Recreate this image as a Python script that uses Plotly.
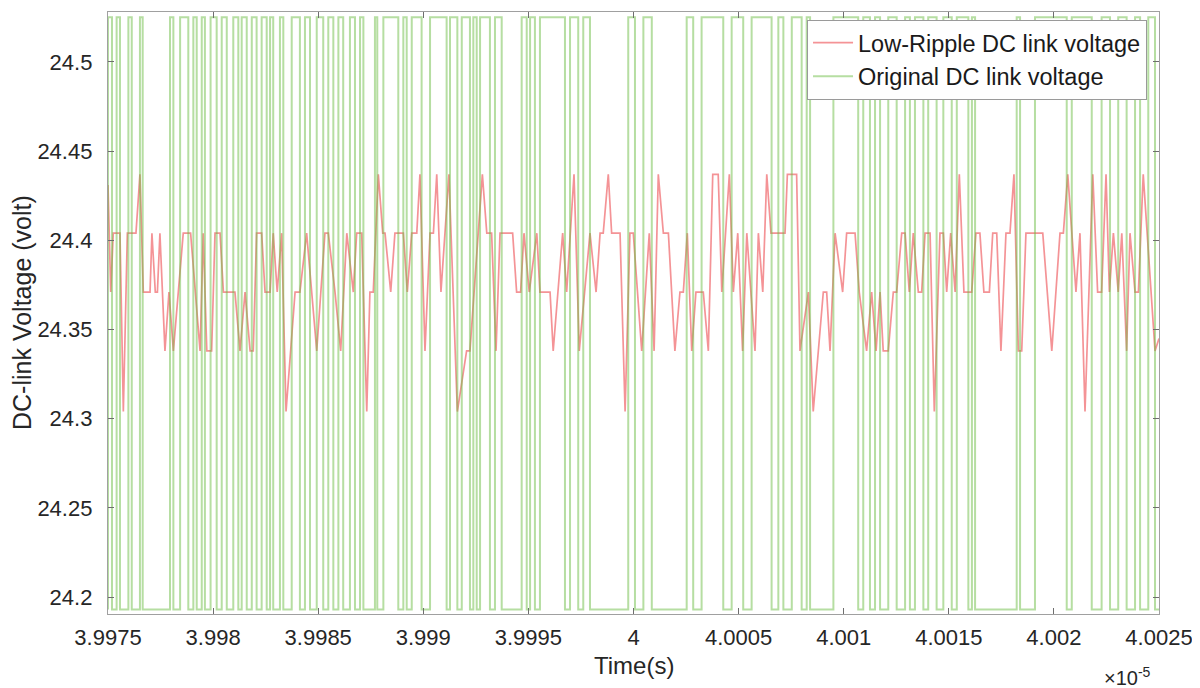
import plotly.graph_objects as go

# ---------------- data (time in ns after 39975 ns; plotted in units of 1e-5 s) ----------------
T0_NS = 39975.0

red_t_ns = [0.00, 0.13, 0.25, 0.57, 0.73, 0.92, 1.33, 1.52, 1.68, 2.00,
            2.09, 2.25, 2.35, 2.47, 2.71, 2.90, 3.11, 3.58, 3.93, 4.38,
            4.53, 4.70, 4.93, 5.09, 5.33, 5.49, 6.04, 6.28, 6.52, 6.76,
            6.91, 7.07, 7.31, 7.47, 7.71, 7.86, 8.05, 8.26, 8.47, 8.90,
            9.13, 9.45, 9.93, 10.32, 10.48, 10.80, 11.07, 11.36, 11.67, 11.83,
            12.07, 12.31, 12.46, 12.62, 12.86, 13.07, 13.18, 13.45, 13.65, 14.05,
            14.24, 14.45, 14.69, 14.84, 15.08, 15.32, 15.48, 15.64, 15.84, 16.22,
            16.62, 17.06, 17.22, 17.81, 18.02, 18.25, 18.46, 18.65, 19.25, 19.44,
            19.63, 19.79, 20.04, 20.40, 20.55, 21.03, 21.18, 21.63, 21.82, 22.17,
            22.42, 22.93, 23.22, 23.41, 23.56, 23.80, 23.96, 24.36, 24.60, 24.83,
            24.99, 25.39, 25.75, 25.98, 26.18, 26.42, 26.66, 26.97, 27.21, 27.37,
            27.56, 27.77, 27.97, 28.32, 28.56, 28.77, 29.03, 29.20, 29.56, 29.75,
            29.96, 30.19, 30.39, 30.78, 30.94, 31.15, 31.34, 31.54, 32.21, 32.32,
            32.76, 32.92, 33.32, 33.55, 34.03, 34.19, 34.35, 34.59, 34.95, 35.14,
            35.54, 35.74, 36.09, 36.33, 36.54, 36.73, 36.88, 37.12, 37.36, 37.52,
            37.76, 37.92, 38.12, 38.31, 38.55, 38.71, 38.87, 39.11, 39.31, 39.58,
            39.74, 39.90, 40.09, 40.30, 40.50, 40.72, 41.09, 41.29, 41.48, 41.67,
            41.93, 42.09, 42.28, 42.48, 42.72, 42.91, 43.10, 43.31, 43.47, 43.67,
            44.47, 44.90, 45.29, 45.45, 45.66, 46.05, 46.24, 46.48, 46.85, 47.08,
            47.27, 47.48, 47.64, 47.83, 48.06, 48.23, 48.46, 48.62, 48.86, 49.02,
            49.25, 49.81, 50.00]

red_v = [24.431, 24.371, 24.404, 24.404, 24.304, 24.404, 24.404, 24.437, 24.371, 24.371,
         24.404, 24.371, 24.371, 24.404, 24.338, 24.371, 24.338, 24.404, 24.404, 24.338,
         24.404, 24.338, 24.338, 24.404, 24.404, 24.371, 24.371, 24.338, 24.371, 24.338,
         24.338, 24.404, 24.404, 24.371, 24.371, 24.404, 24.371, 24.404, 24.304, 24.371,
         24.371, 24.404, 24.338, 24.404, 24.404, 24.371, 24.338, 24.404, 24.371, 24.404,
         24.404, 24.304, 24.371, 24.371, 24.437, 24.404, 24.404, 24.371, 24.404, 24.404,
         24.371, 24.404, 24.404, 24.437, 24.338, 24.404, 24.404, 24.437, 24.371, 24.437,
         24.304, 24.338, 24.338, 24.437, 24.404, 24.404, 24.338, 24.404, 24.404, 24.371,
         24.371, 24.404, 24.371, 24.404, 24.371, 24.371, 24.338, 24.404, 24.371, 24.437,
         24.338, 24.404, 24.371, 24.404, 24.404, 24.437, 24.404, 24.404, 24.304, 24.404,
         24.404, 24.338, 24.404, 24.338, 24.437, 24.404, 24.404, 24.338, 24.371, 24.371,
         24.404, 24.338, 24.371, 24.371, 24.338, 24.437, 24.437, 24.371, 24.437, 24.371,
         24.404, 24.338, 24.404, 24.338, 24.404, 24.371, 24.437, 24.404, 24.404, 24.437,
         24.437, 24.338, 24.371, 24.304, 24.371, 24.371, 24.338, 24.404, 24.371, 24.404,
         24.404, 24.371, 24.338, 24.371, 24.338, 24.371, 24.338, 24.338, 24.371, 24.371,
         24.404, 24.404, 24.371, 24.404, 24.371, 24.371, 24.404, 24.404, 24.304, 24.404,
         24.404, 24.371, 24.404, 24.371, 24.437, 24.371, 24.371, 24.404, 24.404, 24.371,
         24.371, 24.404, 24.404, 24.338, 24.404, 24.404, 24.437, 24.338, 24.338, 24.404,
         24.404, 24.338, 24.404, 24.404, 24.437, 24.371, 24.404, 24.304, 24.437, 24.371,
         24.371, 24.437, 24.371, 24.404, 24.371, 24.404, 24.338, 24.404, 24.371, 24.371,
         24.437, 24.338, 24.345]

green_hi = 24.525
green_lo = 24.193
green_on_ns = [0.00, 0.41, 0.97, 1.52, 2.95, 3.43, 4.06, 4.46, 4.88, 5.41,
               5.96, 6.36, 6.84, 7.31, 7.71, 8.18, 8.74, 9.37, 9.93, 10.48,
               10.96, 11.51, 11.99, 12.70, 13.10, 14.05, 14.45, 15.32, 16.27, 16.83,
               17.38, 17.70, 18.41, 19.68, 20.08, 20.55, 21.98, 22.61, 24.75, 25.47,
               27.53, 28.24, 29.67, 30.62, 31.89, 32.53, 33.24, 34.51, 35.93, 36.49,
               37.12, 37.92, 38.39, 39.02, 39.74, 40.38, 41.10, 43.23, 44.10, 45.85,
               47.27, 48.06, 48.86, 49.49]
green_off_ns = [0.19, 0.57, 1.13, 1.65, 3.11, 3.82, 4.22, 4.61, 5.17, 5.65,
                6.20, 6.60, 7.07, 7.55, 7.86, 8.34, 9.13, 9.61, 10.24, 10.72,
                11.19, 11.75, 12.15, 12.81, 13.81, 14.21, 14.92, 16.11, 16.62, 17.22,
                17.54, 18.17, 18.73, 19.92, 20.31, 21.74, 22.37, 22.93, 25.07, 25.87,
                27.84, 29.27, 30.22, 31.57, 32.13, 33.00, 33.40, 35.69, 36.25, 36.73,
                37.52, 38.15, 38.79, 39.42, 40.14, 40.93, 41.25, 43.39, 45.61, 46.80,
                47.67, 48.46, 49.10, 49.81]
T_END_NS = 50.0

x_ticks = [3.9975, 3.998, 3.9985, 3.999, 3.9995, 4.0, 4.0005, 4.001, 4.0015, 4.002, 4.0025]
x_tick_text = ["3.9975", "3.998", "3.9985", "3.999", "3.9995", "4",
               "4.0005", "4.001", "4.0015", "4.002", "4.0025"]
y_ticks = [24.2, 24.25, 24.3, 24.35, 24.4, 24.45, 24.5]
y_tick_text = ["24.2", "24.25", "24.3", "24.35", "24.4", "24.45", "24.5"]
x_range = [3.9975, 4.0025]
y_range = [24.1905, 24.528]

# ---------------- build traces ----------------
def to_units(t_ns):
    return (T0_NS + t_ns) / 1e4   # seconds * 1e5

red_x = [to_units(t) for t in red_t_ns]

gx, gy = [], []
for on, off in zip(green_on_ns, green_off_ns):
    gx += [to_units(on), to_units(on), to_units(off), to_units(off)]
    gy += [green_lo, green_hi, green_hi, green_lo]
gx.append(to_units(T_END_NS))
gy.append(green_lo)

FONT = "Liberation Sans, Arial, Helvetica, sans-serif"

fig = go.Figure()
fig.add_trace(go.Scatter(x=red_x, y=red_v, mode="lines",
                         name="Low-Ripple DC link voltage",
                         line=dict(color="rgba(238,80,85,0.62)", width=1.7)))
fig.add_trace(go.Scatter(x=gx, y=gy, mode="lines",
                         name="Original DC link voltage",
                         line=dict(color="rgba(110,190,70,0.5)", width=2.0)))

axis_common = dict(showgrid=False, zeroline=False, ticks="inside", ticklen=6,
                   tickcolor="#6e6e6e", tickwidth=1, showline=True,
                   linecolor="#a0a0a0", linewidth=1.3, mirror="ticks",
                   tickfont=dict(family=FONT, size=22, color="#262626"))

fig.update_xaxes(range=x_range, tickmode="array", tickvals=x_ticks,
                 ticktext=x_tick_text, ticklabelstandoff=3, **axis_common)
fig.update_yaxes(range=y_range, tickmode="array", tickvals=y_ticks,
                 ticktext=y_tick_text, ticklabelstandoff=10, **axis_common)

# The page body adds an 8 px offset, so the figure is 8 px smaller and the
# left/top margins are reduced by the same amount.
fig.update_layout(
    width=1192, height=680,
    margin=dict(l=100, r=41, t=4, b=74),
    paper_bgcolor="white", plot_bgcolor="white",
    showlegend=True,
    legend=dict(x=0.9886, y=0.987, xanchor="right", yanchor="top",
                bgcolor="white", bordercolor="#9a9a9a", borderwidth=1,
                font=dict(family=FONT, size=23.5, color="#1a1a1a"),
                tracegroupgap=0, itemwidth=40),
    annotations=[
        dict(text="Time(s)", xref="paper", yref="paper", x=0.5, y=0,
             xanchor="center", yanchor="middle", yshift=-51, showarrow=False,
             font=dict(family=FONT, size=24, color="#262626")),
        dict(text="DC-link Voltage (volt)", xref="paper", yref="paper", x=0, y=0.5,
             xanchor="center", yanchor="middle", xshift=-86, textangle=-90,
             showarrow=False, font=dict(family=FONT, size=25, color="#262626")),
        dict(text="×10<sup>-5</sup>", xref="paper", yref="paper", x=1, y=0,
             xanchor="right", yanchor="middle", xshift=-6, yshift=-62,
             showarrow=False, font=dict(family=FONT, size=20, color="#262626")),
    ],
)

fig.write_html("out.html")
